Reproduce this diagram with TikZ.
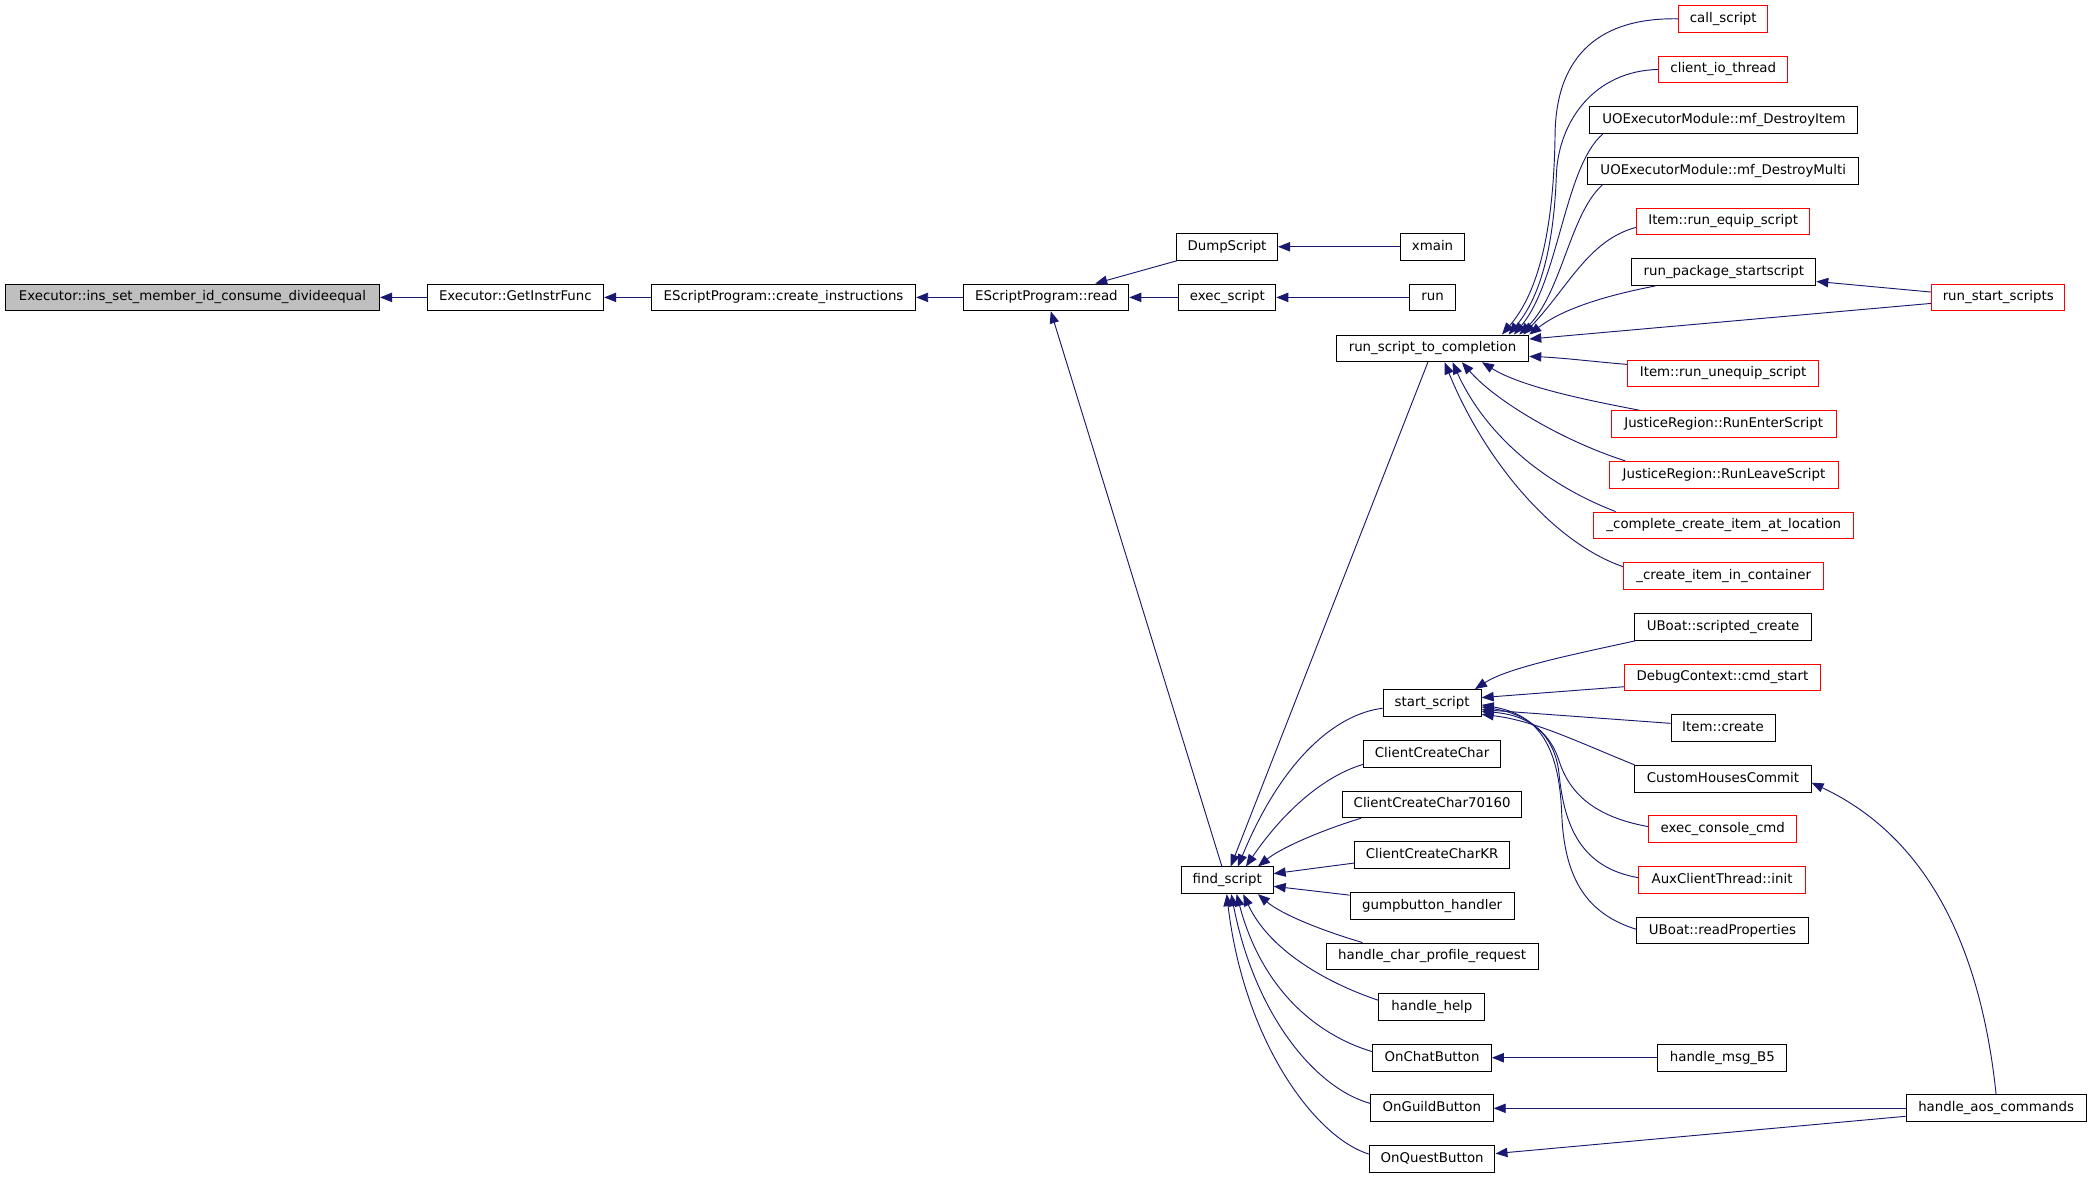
\documentclass[tikz,border=0pt]{standalone}
\usepackage{fontspec}
\setmainfont{DejaVu Sans}
\usetikzlibrary{arrows.meta}
\definecolor{edgec}{RGB}{25,25,112}
\definecolor{redb}{RGB}{255,0,0}
\definecolor{grayf}{RGB}{191,191,191}
\tikzset{
  fn/.style={draw=black, line width=0.75pt, fill=white, minimum height=20pt, inner xsep=2pt, inner ysep=0pt,
    font=\fontsize{10}{12}\selectfont, text height=7.4pt, text depth=2.2pt, anchor=center},
  fnred/.style={fn, draw=redb},
  edge/.style={draw=edgec, line width=0.7pt, -{Triangle[length=9pt,width=7pt]}}
}
\begin{document}
\begin{tikzpicture}[x=1pt,y=-1pt]
\useasboundingbox (0,0) rectangle (1568,882);
% main chain
\node[fn, fill=grayf, minimum width=280.3pt] (ins) at (144.2,222.8) {Executor::ins\_set\_member\_id\_consume\_divideequal};
\node[fn, minimum width=132.2pt] (gif) at (386.1,222.8) {Executor::GetInstrFunc};
\node[fn, minimum width=198pt] (cins) at (587,222.8) {EScriptProgram::create\_instructions};
\node[fn, minimum width=123.5pt] (read) at (783.9,222.8) {EScriptProgram::read};
\node[fn, minimum width=75.7pt] (dump) at (919.2,184.9) {DumpScript};
\node[fn, minimum width=72.5pt] (exec) at (919.5,222.8) {exec\_script};
\node[fn, minimum width=68.8pt] (find) at (919.4,659.5) {find\_script};
\node[fn, minimum width=48.1pt] (xmain) at (1073.2,184.9) {xmain};
\node[fn, minimum width=34.7pt] (run) at (1073.2,222.8) {run};
\node[fn, minimum width=144.1pt] (rstc) at (1073.2,261) {run\_script\_to\_completion};
% middle column
\node[fn, minimum width=73.4pt] (start) at (1072.9,526.6) {start\_script};
\node[fn, minimum width=103.1pt] (ccc) at (1072.9,564.7) {ClientCreateChar};
\node[fn, minimum width=134.6pt] (ccc7) at (1072.9,602.6) {ClientCreateChar70160};
\node[fn, minimum width=116.6pt] (ccckr) at (1072.9,640.6) {ClientCreateCharKR};
\node[fn, minimum width=122.9pt] (gump) at (1072.9,678.6) {gumpbutton\_handler};
\node[fn, minimum width=158.9pt] (hcpr) at (1072.9,716.5) {handle\_char\_profile\_request};
\node[fn, minimum width=79.3pt] (help) at (1072.7,754.4) {handle\_help};
\node[fn, minimum width=88.7pt] (chat) at (1072.9,792.4) {OnChatButton};
\node[fn, minimum width=91.9pt] (guild) at (1072.7,830.3) {OnGuildButton};
\node[fn, minimum width=94.1pt] (quest) at (1072.9,868.2) {OnQuestButton};
% right column
\node[fnred, minimum width=66.9pt] (call) at (1291,14.1) {call\_script};
\node[fnred, minimum width=96.5pt] (cio) at (1291,52.05) {client\_io\_thread};
\node[fn, minimum width=200.7pt] (dItem) at (1291.5,90) {UOExecutorModule::mf\_DestroyItem};
\node[fn, minimum width=202.9pt] (dMulti) at (1291,127.95) {UOExecutorModule::mf\_DestroyMulti};
\node[fnred, minimum width=130.1pt] (equip) at (1290.9,165.9) {Item::run\_equip\_script};
\node[fn, minimum width=137.8pt] (rps) at (1291.4,203.85) {run\_package\_startscript};
\node[fnred, minimum width=99.8pt] (rss) at (1497,222.8) {run\_start\_scripts};
\node[fnred, minimum width=143.4pt] (unequip) at (1290.9,279.75) {Item::run\_unequip\_script};
\node[fnred, minimum width=168.5pt] (enter) at (1291.3,317.7) {JusticeRegion::RunEnterScript};
\node[fnred, minimum width=171.1pt] (leave) at (1291.5,355.65) {JusticeRegion::RunLeaveScript};
\node[fnred, minimum width=194.8pt] (complete) at (1291.4,393.6) {\_complete\_create\_item\_at\_location};
\node[fnred, minimum width=150.1pt] (cinc) at (1291.3,431.55) {\_create\_item\_in\_container};
\node[fn, minimum width=131.9pt] (ubsc) at (1290.8,469.5) {UBoat::scripted\_create};
\node[fnred, minimum width=146.3pt] (debug) at (1290.4,507.45) {DebugContext::cmd\_start};
\node[fn, minimum width=77.9pt] (icreate) at (1290.8,545.4) {Item::create};
\node[fn, minimum width=131.9pt] (chc) at (1290.8,583.35) {CustomHousesCommit};
\node[fnred, minimum width=110.7pt] (econ) at (1290.6,621.3) {exec\_console\_cmd};
\node[fnred, minimum width=125.2pt] (aux) at (1290.1,659.25) {AuxClientThread::init};
\node[fn, minimum width=128.3pt] (uprop) at (1290.4,697.2) {UBoat::readProperties};
\node[fn, minimum width=96.8pt] (msgb5) at (1290.3,792.4) {handle\_msg\_B5};
\node[fn, minimum width=135pt] (aos) at (1495.4,830.3) {handle\_aos\_commands};

% main chain edges
\draw[edge] (gif.west) -- (ins.east);
\draw[edge] (cins.west) -- (gif.east);
\draw[edge] (read.west) -- (cins.east);
\draw[edge] (exec.west) -- (read.east);
\draw[edge] (run.west) -- (exec.east);
\draw[edge] (xmain.west) -- (dump.east);
\draw[edge] ([xshift=1pt]dump.south west) -- ([xshift=36.6pt]read.north);
\draw[edge] ([xshift=-4pt]find.north) -- ([xshift=3.3pt]read.south);
\draw[edge] ([xshift=-3.5pt]rstc.south) -- ([xshift=2.6pt]find.north);

% callers of run_script_to_completion
\draw[edge] (call.west) .. controls (1200,13) and (1166,40) .. (1165,100) .. controls (1164,180) and (1150,222) .. ([xshift=52pt]rstc.north);
\draw[edge] (cio.west) .. controls (1195,53) and (1168,90) .. (1166,130) .. controls (1164,190) and (1152,225) .. ([xshift=57pt]rstc.north);
\draw[edge] ([xshift=10pt]dItem.south west) .. controls (1172,125) and (1168,210) .. ([xshift=61pt]rstc.north);
\draw[edge] ([xshift=11.5pt]dMulti.south west) .. controls (1176,160) and (1170,220) .. ([xshift=65pt]rstc.north);
\draw[edge] ([yshift=-4.5pt]equip.west) .. controls (1190,180) and (1175,215) .. ([xshift=68pt]rstc.north);
\draw[edge] ([xshift=18pt]rps.south west) .. controls (1200,222) and (1170,232) .. (rstc.north east);
\draw[edge] ([yshift=4pt]rss.west) -- ([yshift=-7pt]rps.east);
\draw[edge] ([yshift=-4.5pt]rss.west) -- ([yshift=7pt]rstc.east);
\draw[edge] ([yshift=6.75pt]unequip.west) .. controls (1195,271) and (1170,268) .. ([yshift=-6pt]rstc.east);
\draw[edge] ([xshift=21.4pt]enter.north west) .. controls (1190,300) and (1140,290) .. ([xshift=37pt]rstc.south);
\draw[edge] ([xshift=12pt]leave.north west) .. controls (1170,330) and (1120,300) .. ([xshift=22pt]rstc.south);
\draw[edge] ([xshift=16.7pt]complete.north west) .. controls (1150,360) and (1110,320) .. ([xshift=15pt]rstc.south);
\draw[edge] ([yshift=7pt]cinc.west) .. controls (1160,405) and (1110,340) .. ([xshift=9pt]rstc.south);

% callers of start_script
\draw[edge] ([yshift=-4pt]start.west) .. controls (1000,535) and (960,570) .. ([xshift=8pt]find.north);
\draw[edge] ([xshift=1.5pt]ubsc.south west) .. controls (1180,490) and (1130,500) .. ([xshift=-5pt]start.north east);
\draw[edge] ([yshift=-7pt]debug.west) -- ([yshift=4pt]start.east);
\draw[edge] ([yshift=3.5pt]icreate.west) -- ([yshift=-5pt]start.east);
\draw[edge] (chc.north west) .. controls (1180,555) and (1150,540) .. ([yshift=-8.5pt]start.east);
\draw[edge] ([yshift=2pt]econ.west) .. controls (1195,612) and (1176,595) .. (1168,570) .. controls (1160,545) and (1140,535) .. ([yshift=-6.5pt]start.east);
\draw[edge] ([yshift=1.75pt]aux.west) .. controls (1185,650) and (1172,620) .. (1168,580) .. controls (1165,550) and (1145,535) .. ([yshift=-3pt]start.east);
\draw[edge] ([yshift=1pt]uprop.west) .. controls (1190,685) and (1172,660) .. (1170,610) .. controls (1168,555) and (1150,535) .. ([yshift=-1.5pt]start.east);

% handle_aos_commands and handle_msg_B5
\draw[edge] (aos.north) .. controls (1485,720) and (1450,630) .. ([yshift=-3pt]chc.east);
\draw[edge] (aos.west) -- (guild.east);
\draw[edge] ([yshift=-6pt]aos.west) -- ([yshift=4pt]quest.east);
\draw[edge] (msgb5.west) -- (chat.east);

% callers of find_script
\draw[edge] ([yshift=-8pt]ccc.west) .. controls (990,582) and (960,610) .. ([xshift=14pt]find.north);
\draw[edge] ([xshift=14.4pt]ccc7.south west) .. controls (990,622) and (960,635) .. ([xshift=23pt]find.north);
\draw[edge] ([yshift=-6pt]ccckr.west) -- ([yshift=5pt]find.east);
\draw[edge] ([yshift=8pt]gump.west) -- ([yshift=-4.5pt]find.east);
\draw[edge] ([xshift=27.6pt]hcpr.north west) .. controls (990,697) and (960,685) .. ([xshift=23pt]find.south);
\draw[edge] ([yshift=5pt]help.west) .. controls (990,735) and (950,710) .. ([xshift=12pt]find.south);
\draw[edge] ([yshift=4.5pt]chat.west) .. controls (985,775) and (945,740) .. ([xshift=7pt]find.south);
\draw[edge] ([yshift=3.7pt]guild.west) .. controls (985,815) and (940,760) .. ([xshift=3pt]find.south);
\draw[edge] ([yshift=3.6pt]quest.west) .. controls (985,852) and (932,780) .. ([xshift=-0.4pt]find.south);
\end{tikzpicture}
\end{document}
